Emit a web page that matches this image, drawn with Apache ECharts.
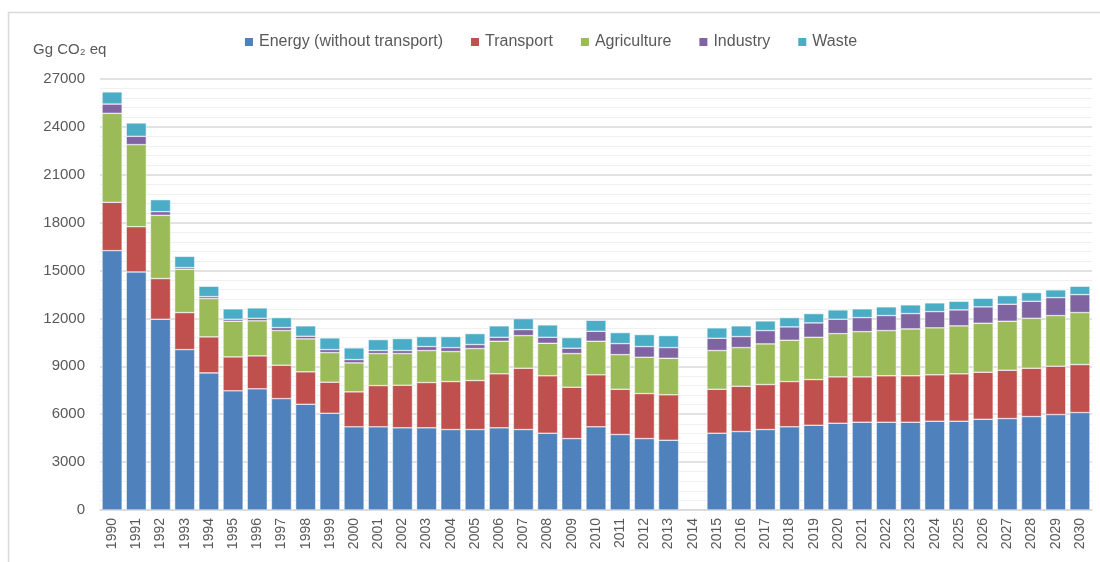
<!DOCTYPE html>
<html>
<head>
<meta charset="utf-8">
<script src="https://cdn.jsdelivr.net/npm/echarts@6/dist/echarts.min.js"></script>
<style>
  html, body { margin: 0; padding: 0; background: #fff; }
  #chart { width: 1100px; height: 562px; }
</style>
</head>
<body>
<div id="chart"></div>
<script>
// years 1990-2030 (2014 has no data)
const years = ['1990', '1991', '1992', '1993', '1994', '1995', '1996', '1997', '1998', '1999',
  '2000', '2001', '2002', '2003', '2004', '2005', '2006', '2007', '2008', '2009',
  '2010', '2011', '2012', '2013', '2014', '2015', '2016', '2017', '2018', '2019',
  '2020', '2021', '2022', '2023', '2024', '2025', '2026', '2027', '2028', '2029', '2030']

const energy = [16250, 14915, 11950, 10050, 8590, 7465, 7590, 6980, 6625, 6060,
  5210, 5210, 5145, 5145, 5040, 5040, 5145, 5040, 4810, 4475,
  5210, 4730, 4475, 4370, null, 4810, 4915, 5040, 5210, 5310,
  5435, 5500, 5500, 5500, 5560, 5560, 5685, 5730, 5855, 5980, 6105]
const transport = [3025, 2835, 2550, 2320, 2255, 2125, 2065, 2090, 2030, 1945,
  2190, 2585, 2670, 2840, 3005, 3070, 3385, 3840, 3595, 3215,
  3255, 2835, 2820, 2845, null, 2755, 2835, 2820, 2835, 2860,
  2905, 2840, 2905, 2905, 2905, 2970, 2945, 3025, 3025, 3025, 3005]
const agriculture = [5575, 5140, 3960, 2710, 2400, 2235, 2195, 2170, 2065, 1855,
  1815, 2005, 1985, 2005, 1880, 2005, 2040, 2045, 2040, 2110,
  2105, 2170, 2275, 2290, null, 2425, 2425, 2545, 2590, 2650,
  2710, 2835, 2835, 2940, 2945, 3005, 3070, 3070, 3130, 3175, 3260]
const industry = [580, 520, 230, 105, 125, 125, 160, 190, 165, 190,
  210, 190, 190, 250, 250, 250, 250, 375, 375, 335,
  625, 690, 670, 670, null, 770, 690, 835, 835, 900,
  900, 880, 940, 960, 1020, 1000, 1025, 1065, 1065, 1125, 1125]
const waste = [760, 835, 750, 705, 645, 650, 650, 625, 650, 730,
  730, 685, 750, 625, 690, 685, 715, 690, 775, 665,
  690, 690, 750, 750, null, 650, 670, 605, 585, 585,
  585, 545, 545, 545, 545, 540, 540, 540, 545, 485, 520]

const seriesNames = ['Energy (without transport)', 'Transport', 'Agriculture', 'Industry', 'Waste']
const seriesData = [energy, transport, agriculture, industry, waste]
const colors = ['#4F81BD', '#C0504D', '#9BBB59', '#8064A2', '#4BACC6']

const font = 'Liberation Sans, Arial, sans-serif'
const chart = echarts.init(document.getElementById('chart'))

chart.setOption({
  backgroundColor: '#fff',
  animation: false,
  color: colors,
  graphic: [{
    type: 'polyline',
    shape: { points: [[8.5, 562], [8.5, 12.5], [1100, 12.5]] },
    style: { stroke: '#d9d9d9', lineWidth: 1.5, fill: null }
  }],
  legend: {
    top: 29,
    left: 'center',
    icon: 'rect',
    itemWidth: 10,
    itemHeight: 10,
    itemGap: 26,
    textStyle: { fontFamily: font, fontSize: 16, color: '#595959' },
    data: seriesNames
  },
  grid: {
    left: 100,
    right: 8,
    top: 79,
    bottom: 52
  },
  xAxis: {
    type: 'category',
    data: years,
    axisTick: { show: false },
    axisLine: { lineStyle: { color: '#d9d9d9', width: 1.5 } },
    axisLabel: {
      rotate: 90,
      interval: 0,
      margin: 8,
      fontFamily: font,
      fontSize: 14,
      color: '#595959'
    }
  },
  yAxis: {
    type: 'value',
    min: 0,
    max: 27000,
    interval: 3000,
    name: 'Gg CO₂ eq',
    nameLocation: 'end',
    nameGap: 22,
    nameTextStyle: { fontFamily: font, fontSize: 15, color: '#595959', align: 'left', padding: [0, 0, 0, -67] },
    axisLine: { show: false },
    axisTick: { show: false },
    axisLabel: { fontFamily: font, fontSize: 15, color: '#595959', margin: 15, formatter: v => String(v) },
    splitLine: { lineStyle: { color: '#d9d9d9', width: 1.5 } },
    minorTick: { show: false, splitNumber: 5 },
    minorSplitLine: { show: true, lineStyle: { color: '#f0f0f0', width: 1 } }
  },
  series: seriesNames.map((name, i) => ({
    name: name,
    type: 'bar',
    stack: 'total',
    barCategoryGap: '17%',
    itemStyle: { borderColor: '#ffffff', borderWidth: 0.5 },
    data: seriesData[i]
  }))
})
</script>
</body>
</html>
